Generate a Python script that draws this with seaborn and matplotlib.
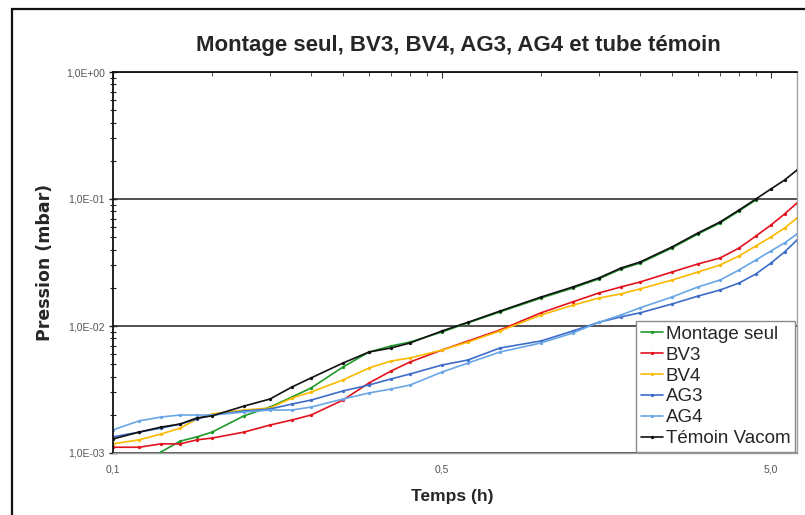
import numpy as np
import pandas as pd
import matplotlib
matplotlib.use("Agg")
import matplotlib.pyplot as plt
import seaborn as sns
from matplotlib.ticker import FixedLocator, FixedFormatter, LogLocator, NullFormatter
from matplotlib.patches import Rectangle

# Pumping-down time (h) and pressures (mbar) for each tube
temps_h = [0.10, 0.12, 0.14, 0.16, 0.18, 0.20, 0.25, 0.30, 0.35, 0.40,
           0.50, 0.60, 0.70, 0.80, 1.0, 1.2, 1.5, 2.0, 2.5, 3.0,
           3.5, 4.0, 5.0, 6.0, 7.0, 8.0, 9.0, 10.0, 11.0, 12.0]

montage_seul = [np.nan, 7.9e-4, 1.02e-3, 1.24e-3, 1.34e-3, 1.46e-3, 1.96e-3, 2.30e-3, 2.76e-3, 3.25e-3,
                4.75e-3, 6.24e-3, 6.96e-3, 7.48e-3, 8.97e-3, 1.06e-2, 1.29e-2, 1.66e-2, 1.99e-2, 2.35e-2,
                2.81e-2, 3.13e-2, 4.11e-2, 5.30e-2, 6.47e-2, 8.05e-2, 9.82e-2, np.nan, np.nan, np.nan]
bv3 = [1.11e-3, 1.11e-3, 1.18e-3, 1.18e-3, 1.27e-3, 1.31e-3, 1.46e-3, 1.66e-3, 1.82e-3, 1.99e-3,
       2.61e-3, 3.56e-3, 4.42e-3, 5.21e-3, 6.47e-3, 7.62e-3, 9.30e-3, 1.27e-2, 1.55e-2, 1.82e-2,
       2.03e-2, 2.22e-2, 2.66e-2, 3.08e-2, 3.43e-2, 4.11e-2, 5.11e-2, 6.24e-2, 7.62e-2, 9.30e-2]
bv4 = [1.18e-3, 1.27e-3, 1.41e-3, 1.57e-3, 1.85e-3, 2.03e-3, 2.18e-3, 2.26e-3, 2.71e-3, 3.02e-3,
       3.76e-3, 4.67e-3, 5.30e-3, 5.60e-3, 6.47e-3, 7.48e-3, 9.14e-3, 1.22e-2, 1.46e-2, 1.66e-2,
       1.79e-2, 1.96e-2, 2.30e-2, 2.66e-2, 3.02e-2, 3.56e-2, 4.27e-2, 5.02e-2, 5.91e-2, 7.08e-2]
ag3 = [1.34e-3, 1.46e-3, 1.57e-3, 1.69e-3, 1.85e-3, 1.99e-3, 2.14e-3, 2.22e-3, 2.43e-3, 2.61e-3,
       3.08e-3, 3.43e-3, 3.83e-3, 4.19e-3, 4.93e-3, 5.40e-3, 6.71e-3, 7.62e-3, 9.14e-3, 1.07e-2,
       1.18e-2, 1.27e-2, 1.49e-2, 1.72e-2, 1.92e-2, 2.18e-2, 2.57e-2, 3.13e-2, 3.83e-2, 4.75e-2]
ag4 = [1.52e-3, 1.79e-3, 1.92e-3, 1.99e-3, 1.99e-3, 1.99e-3, 2.10e-3, 2.18e-3, 2.18e-3, 2.30e-3,
       2.66e-3, 2.97e-3, 3.19e-3, 3.43e-3, 4.34e-3, 5.11e-3, 6.24e-3, 7.35e-3, 8.81e-3, 1.07e-2,
       1.22e-2, 1.39e-2, 1.69e-2, 2.03e-2, 2.30e-2, 2.76e-2, 3.31e-2, 3.90e-2, 4.51e-2, 5.30e-2]
temoin_vacom = [1.29e-3, 1.46e-3, 1.60e-3, 1.69e-3, 1.89e-3, 1.96e-3, 2.34e-3, 2.66e-3, 3.31e-3, 3.90e-3,
                5.11e-3, 6.24e-3, 6.71e-3, 7.35e-3, 9.14e-3, 1.07e-2, 1.31e-2, 1.69e-2, 2.03e-2, 2.39e-2,
                2.86e-2, 3.19e-2, 4.19e-2, 5.40e-2, 6.59e-2, 8.19e-2, 0.100, 0.120, 0.141, 0.169]

series_names = ["Montage seul", "BV3", "BV4", "AG3", "AG4", "Témoin Vacom"]
series_values = [montage_seul, bv3, bv4, ag3, ag4, temoin_vacom]
series_colors = ["#1f9a2a", "#e3121f", "#fbb900", "#3d6cc9", "#69a6e6", "#111111"]

x_tick_values = [0.1, 1.0, 10.0]
x_tick_labels = ["0,1", "0,5", "5,0"]
y_tick_values = [1e-3, 1e-2, 1e-1, 1e0]
y_tick_labels = ["1,0E-03", "1,0E-02", "1,0E-01", "1,0E+00"]

df = pd.concat(
    [pd.DataFrame({"Temps": temps_h, "Pression": vals, "Série": name})
     for name, vals in zip(series_names, series_values)],
    ignore_index=True,
).dropna()

sns.set_style("white")
plt.rcParams["font.family"] = ["Liberation Sans", "DejaVu Sans"]

fig = plt.figure(figsize=(8.05, 5.15), dpi=100)
ax = fig.add_axes([113 / 805, 1 - 453 / 515, 684 / 805, 381 / 515])

sns.lineplot(data=df, x="Temps", y="Pression", hue="Série", hue_order=series_names,
             palette=series_colors, marker="o", markersize=2.4, markeredgewidth=0,
             linewidth=1.2, estimator=None, ax=ax)

ax.set_xscale("log")
ax.set_yscale("log")
ax.set_xlim(0.1, 12)
ax.set_ylim(1e-3, 1)

# x axis: labels at the bottom, tick marks along the top edge
ax.xaxis.set_major_locator(FixedLocator(x_tick_values))
ax.xaxis.set_major_formatter(FixedFormatter(x_tick_labels))
ax.xaxis.set_minor_locator(LogLocator(base=10, subs=np.arange(2, 10)))
ax.xaxis.set_minor_formatter(NullFormatter())
ax.tick_params(axis="x", which="both", bottom=False, top=True, direction="in",
               labelbottom=True, labeltop=False, color="#333333")
ax.tick_params(axis="x", which="major", length=4, pad=8, labelsize=7.5, labelcolor="#555555")
ax.tick_params(axis="x", which="minor", length=3)

# y axis: decade labels, crossing tick marks
ax.yaxis.set_major_locator(FixedLocator(y_tick_values))
ax.yaxis.set_major_formatter(FixedFormatter(y_tick_labels))
ax.yaxis.set_minor_locator(LogLocator(base=10, subs=np.arange(2, 10)))
ax.yaxis.set_minor_formatter(NullFormatter())
ax.tick_params(axis="y", which="both", left=True, direction="inout", color="#222222")
ax.tick_params(axis="y", which="major", length=6, width=1, labelsize=7.5,
               labelcolor="#555555", pad=3)
ax.tick_params(axis="y", which="minor", length=5, width=0.8)

ax.grid(axis="y", which="major", color="#333333", linewidth=1.2)
ax.grid(axis="x", visible=False)

for side, col, lw in [("left", "#111111", 1.3), ("top", "#111111", 1.3),
                      ("right", "#a0a0a0", 1.0), ("bottom", "#a0a0a0", 1.0)]:
    ax.spines[side].set_visible(True)
    ax.spines[side].set_color(col)
    ax.spines[side].set_linewidth(lw)

ax.set_xlabel("")
ax.set_ylabel("")

handles, labels = ax.get_legend_handles_labels()
leg = ax.legend(handles, labels, loc="lower right", bbox_to_anchor=(0.997, 0.003),
                frameon=True, fancybox=False, edgecolor="#8a8a8a", framealpha=1,
                fontsize=13.5, handlelength=1.2, handletextpad=0.12, borderpad=0.25,
                labelspacing=0.2, borderaxespad=0)
leg.get_frame().set_linewidth(1.0)

fig.text(458 / 805, 1 - 45 / 515, "Montage seul, BV3, BV4, AG3, AG4 et tube témoin",
         ha="center", va="center", fontsize=16, fontweight="bold")
fig.text(452 / 805, 1 - 497 / 515, "Temps (h)", ha="center", va="center",
         fontsize=12.5, fontweight="bold")
fig.text(45 / 805, 1 - 262 / 515, "Pression (mbar)", ha="center", va="center",
         rotation=90, fontsize=12.5, fontweight="bold", family=["DejaVu Sans"])

# outer frame around the whole graphic
fig.patches.append(Rectangle((12 / 805, -0.05), 1.2, 1 - 9 / 515 + 0.05,
                             transform=fig.transFigure, fill=False,
                             edgecolor="#111111", linewidth=1.6, zorder=0))

fig.savefig("out.png", dpi=100)
